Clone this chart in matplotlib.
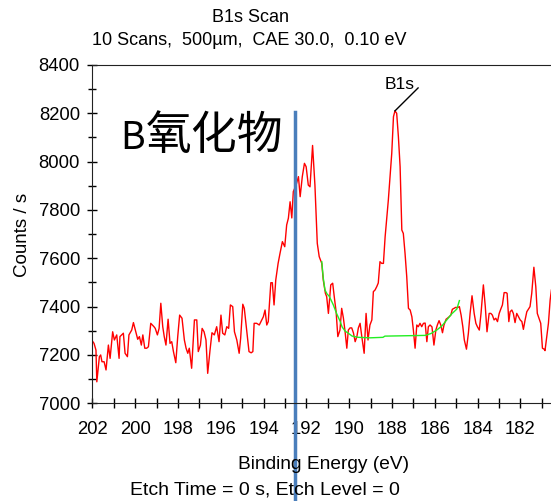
import matplotlib
matplotlib.use("Agg")
import matplotlib.pyplot as plt
from matplotlib.ticker import MultipleLocator

plt.rcParams['font.family'] = ['Liberation Sans', 'DejaVu Sans']

# B1s spectrum
energy = [
    202.03, 201.92, 201.83, 201.79, 201.67, 201.61, 201.55, 201.45, 201.36, 201.25,
    201.17, 201.05, 200.97, 200.86, 200.75, 200.71, 200.63, 200.55, 200.47, 200.36,
    200.29, 200.16, 200.08, 199.97, 199.88, 199.80, 199.71, 199.64, 199.55, 199.46,
    199.38, 199.27, 199.12, 199.06, 198.96, 198.88, 198.80, 198.71, 198.64, 198.56,
    198.46, 198.37, 198.29, 198.21, 198.10, 198.01, 197.92, 197.81, 197.70, 197.62,
    197.54, 197.47, 197.36, 197.23, 197.12, 197.05, 196.95, 196.87, 196.78, 196.69,
    196.61, 196.50, 196.41, 196.30, 196.19, 196.08, 195.99, 195.91, 195.81, 195.72,
    195.63, 195.55, 195.44, 195.36, 195.25, 195.14, 195.07, 194.97, 194.90, 194.79,
    194.68, 194.58, 194.50, 194.44, 194.32, 194.20, 194.12, 194.01, 193.93, 193.85,
    193.78, 193.66, 193.59, 193.51, 193.43, 193.32, 193.23, 193.12, 193.01, 192.92,
    192.84, 192.76, 192.68, 192.61, 192.48, 192.37, 192.29, 192.19, 192.09, 192.01,
    191.91, 191.83, 191.71, 191.60, 191.49, 191.40, 191.28, 191.21, 191.11, 191.05,
    190.97, 190.86, 190.77, 190.69, 190.61, 190.53, 190.43, 190.35, 190.27, 190.19,
    190.11, 190.04, 189.96, 189.88, 189.80, 189.72, 189.64, 189.57, 189.49, 189.41,
    189.30, 189.21, 189.12, 189.03, 188.94, 188.87, 188.79, 188.71, 188.64, 188.56,
    188.48, 188.40, 188.32, 188.24, 188.17, 188.09, 188.01, 187.93, 187.86, 187.78,
    187.70, 187.62, 187.54, 187.47, 187.39, 187.31, 187.23, 187.15, 187.07, 187.00,
    186.92, 186.84, 186.77, 186.69, 186.61, 186.53, 186.45, 186.37, 186.30, 186.22,
    186.13, 186.04, 185.95, 185.88, 185.80, 185.72, 185.64, 185.57, 185.47, 185.41,
    185.33, 185.25, 185.18, 185.10, 185.02, 184.94, 184.85, 184.77, 184.69, 184.62,
    184.52, 184.43, 184.35, 184.26, 184.16, 184.08, 184.01, 183.92, 183.84, 183.73,
    183.64, 183.56, 183.46, 183.38, 183.31, 183.23, 183.15, 183.07, 182.99, 182.92,
    182.84, 182.76, 182.67, 182.62, 182.54, 182.48, 182.40, 182.33, 182.25, 182.17,
    182.09, 182.01, 181.93, 181.86, 181.78, 181.70, 181.63, 181.55, 181.47, 181.37,
    181.28, 181.21, 181.13, 181.05, 180.97, 180.89, 180.85, 180.77, 180.69, 180.61,
    180.55,
]
counts = [
    7262, 7248, 7220, 7089, 7193, 7200, 7172, 7172, 7138, 7241,
    7186, 7296, 7262, 7283, 7186, 7276, 7283, 7290, 7207, 7193,
    7283, 7303, 7334, 7296, 7265, 7276, 7241, 7283, 7228, 7228,
    7234, 7331, 7317, 7310, 7283, 7310, 7414, 7317, 7276, 7241,
    7348, 7248, 7255, 7214, 7168, 7276, 7365, 7352, 7262, 7228,
    7207, 7228, 7145, 7345, 7345, 7214, 7241, 7310, 7296, 7262,
    7124, 7221, 7292, 7283, 7317, 7255, 7365, 7290, 7283, 7317,
    7310, 7407, 7400, 7296, 7262, 7207, 7269, 7410, 7393, 7303,
    7214, 7209, 7214, 7331, 7331, 7324, 7338, 7358, 7386, 7324,
    7338, 7499, 7499, 7407, 7510, 7579, 7621, 7669, 7648, 7738,
    7766, 7834, 7767, 7876, 7903, 7938, 7855, 7938, 7993, 7979,
    7903, 7896, 8067, 7903, 7662, 7607, 7579, 7510, 7455, 7441,
    7372, 7490, 7497, 7436, 7379, 7276, 7303, 7393, 7353, 7296,
    7228, 7303, 7312, 7312, 7291, 7255, 7276, 7312, 7331, 7276,
    7207, 7372, 7262, 7324, 7345, 7462, 7469, 7483, 7498, 7586,
    7579, 7579, 7689, 7772, 7841, 7938, 8035, 8186, 8210, 8200,
    8103, 7979, 7717, 7703, 7621, 7524, 7393, 7386, 7358, 7303,
    7228, 7324, 7317, 7331, 7317, 7331, 7332, 7255, 7317, 7324,
    7316, 7241, 7303, 7324, 7342, 7324, 7292, 7324, 7348, 7352,
    7358, 7365, 7389, 7393, 7397, 7396, 7400, 7365, 7317, 7262,
    7224, 7290, 7372, 7445, 7372, 7331, 7317, 7303, 7372, 7490,
    7400, 7296, 7372, 7372, 7365, 7345, 7352, 7338, 7372, 7389,
    7407, 7458, 7458, 7455, 7338, 7379, 7386, 7372, 7334, 7372,
    7358, 7345, 7338, 7306, 7345, 7379, 7389, 7400, 7455, 7563,
    7482, 7372, 7352, 7331, 7228, 7224, 7218, 7276, 7331, 7427,
    7469,
]

# background under the peak
bg_energy = [191.28, 191.21, 191.13, 191.03, 190.94, 190.85, 190.74, 190.58, 190.43,
             190.33, 190.19, 190.04, 189.86, 189.58, 189.02, 188.42, 188.33, 186.45,
             186.17, 185.91, 185.67, 185.44, 185.21, 184.97, 184.85]
bg_counts = [7586, 7518, 7469, 7452, 7444, 7428, 7407, 7370, 7341,
             7316, 7299, 7290, 7278, 7273, 7271, 7273, 7278, 7281,
             7289, 7303, 7320, 7345, 7370, 7390, 7425]

peak_label = "B1s"
peak_pos = (187.86, 8210)
label_end = (186.78, 8305)
marker_energy = 192.51

fig = plt.figure(figsize=(5.51, 5.01), dpi=100)
ax = fig.add_axes([0.1664, 0.195, 0.8336, 0.6753])

ax.plot(energy, counts, color='#ff0000', lw=1.0)
ax.plot(bg_energy, bg_counts, color='#22ee22', lw=1.0)

ax.plot([peak_pos[0], label_end[0]], [peak_pos[1], label_end[1]], color='black', lw=1.0)
ax.text(187.66, 8288, peak_label, ha='center', va='bottom', fontsize=12.5)

ax.set_xlim(202.03, 180.57)
ax.set_ylim(7000, 8400)
ax.xaxis.set_major_locator(MultipleLocator(2))
ax.xaxis.set_minor_locator(MultipleLocator(1))
ax.yaxis.set_major_locator(MultipleLocator(200))
ax.yaxis.set_minor_locator(MultipleLocator(100))
ax.tick_params(axis='x', which='both', direction='inout', length=7, width=1,
               labelsize=13.3, pad=9)
ax.tick_params(axis='y', which='major', direction='inout', length=7, width=1,
               labelsize=13.3, pad=5)
ax.tick_params(axis='y', which='minor', direction='inout', length=6, width=1)
ax.spines['right'].set_visible(False)
for s in ['left', 'bottom', 'top']:
    ax.spines[s].set_color('#222222')

# vertical marker running past the axis down to the figure edge
ax.axvline(marker_energy, ymin=-0.29, ymax=0.862, color='#4a7ebb', lw=2.5, clip_on=False)

fig.text(0.455, 0.966, "B1s Scan", ha='center', va='center', fontsize=13)
fig.text(0.452, 0.920, "10 Scans,  500µm,  CAE 30.0,  0.10 eV", ha='center', va='center', fontsize=13)
fig.text(0.04, 0.532, "Counts / s", rotation=90, ha='center', va='center', fontsize=13.5)
fig.text(0.588, 0.072, "Binding Energy (eV)", ha='center', va='center', fontsize=13.8)
fig.text(0.481, 0.022, "Etch Time = 0 s, Etch Level = 0", ha='center', va='center', fontsize=14)
fig.text(0.219, 0.702, "B", ha='left', va='baseline', fontsize=27,
         family=['Noto Sans CJK SC', 'DejaVu Sans'])
fig.text(0.265, 0.702, "氧化物", ha='left', va='baseline', fontsize=33,
         family=['Noto Sans CJK SC', 'DejaVu Sans'])

fig.savefig("out.png", dpi=100)
